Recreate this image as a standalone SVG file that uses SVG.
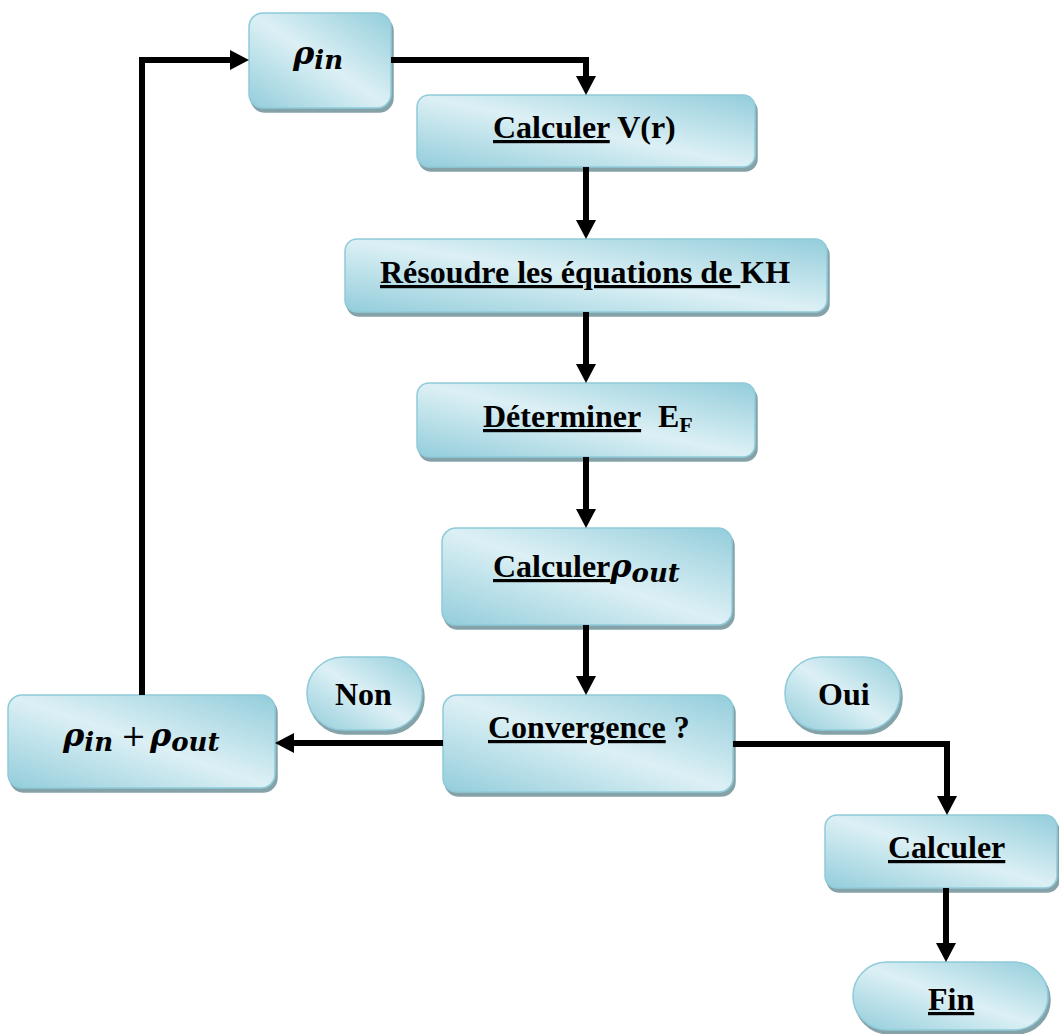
<svg xmlns="http://www.w3.org/2000/svg" width="1059" height="1034" viewBox="0 0 1059 1034">
<defs>
<linearGradient id="g" x1="1" y1="0" x2="0" y2="1">
<stop offset="0" stop-color="#93cddb"/>
<stop offset="0.5" stop-color="#dcf0f5"/>
<stop offset="1" stop-color="#93cddb"/>
</linearGradient>
<filter id="sh" x="-10%" y="-10%" width="130%" height="130%">
<feDropShadow dx="2" dy="4" stdDeviation="0.6" flood-color="#7f9ca4" flood-opacity="0.95"/>
</filter>
<marker id="ah" markerUnits="userSpaceOnUse" markerWidth="20" markerHeight="20" refX="7" refY="10" orient="auto">
<path d="M0,0 L19,10 L0,20 Z" fill="#000"/>
</marker>
<style>
.box{fill:url(#g);stroke:#8fcad9;stroke-width:1.5;filter:url(#sh)}
.t{font-family:"Liberation Serif","Times New Roman",serif;font-weight:bold;font-size:32px;fill:#000}
.u{text-decoration:underline;text-decoration-thickness:3px}
.m{font-family:"DejaVu Serif",serif;font-style:italic;font-weight:bold;font-size:32px}
.s{font-size:26px}
.p{font-family:"DejaVu Serif",serif;font-style:normal;font-weight:normal;font-size:30px}
.c{fill:none;stroke:#000;stroke-width:6;stroke-linejoin:miter;marker-end:url(#ah)}
</style>
</defs>
<rect width="1059" height="1034" fill="#fff"/>
<g id="node-rho-in">
<rect class="box" x="249" y="13" width="142" height="95" rx="14"/>
<text class="t m" x="293" y="64">ρ<tspan class="s" dy="5">in</tspan></text>
</g>
<g id="node-calculer-v">
<rect class="box" x="417" y="95" width="338" height="72" rx="12"/>
<text class="t" x="493" y="138"><tspan class="u">Calculer</tspan> V(r)</text>
</g>
<g id="node-resoudre">
<rect class="box" x="345" y="239" width="482" height="73" rx="12"/>
<text class="t" x="380" y="283"><tspan class="u">Résoudre les équations de </tspan>KH</text>
</g>
<g id="node-determiner">
<rect class="box" x="417" y="383" width="338" height="74" rx="12"/>
<text class="t" x="483" y="427"><tspan class="u">Déterminer</tspan><tspan x="658">E</tspan><tspan font-size="22" dy="5">F</tspan></text>
</g>
<g id="node-calculer-rho-out">
<rect class="box" x="442" y="528" width="290" height="97" rx="14"/>
<text class="t" x="493" y="577"><tspan class="u">Calculer</tspan><tspan class="m">ρ</tspan><tspan class="m s" dy="5">out</tspan></text>
</g>
<g id="node-convergence">
<rect class="box" x="443" y="695" width="290" height="97" rx="14"/>
<text class="t" x="488" y="738"><tspan class="u">Convergence</tspan> ?</text>
</g>
<g id="node-rho-sum">
<rect class="box" x="8" y="695" width="267" height="93" rx="14"/>
<text class="t m" x="63" y="746">ρ<tspan class="s" dy="5">in</tspan><tspan class="p" x="121" dy="-5">+</tspan><tspan x="150">ρ</tspan><tspan class="s" dy="5">out</tspan></text>
</g>
<g id="node-non">
<rect class="box" x="307" y="657" width="115" height="73" rx="36"/>
<text class="t" x="335" y="705">Non</text>
</g>
<g id="node-oui">
<rect class="box" x="785" y="657" width="115" height="73" rx="36"/>
<text class="t" x="818" y="705">Oui</text>
</g>
<g id="node-calculer">
<rect class="box" x="825" y="815" width="232" height="73" rx="12"/>
<text class="t" x="888" y="858"><tspan class="u">Calculer</tspan></text>
</g>
<g id="node-fin">
<rect class="box" x="853" y="962" width="195" height="68" rx="34"/>
<text class="t" x="928" y="1010"><tspan class="u">Fin</tspan></text>
</g>
<g id="connectors">
<path class="c" d="M391,60 H586 V83"/>
<path class="c" d="M586,167 V227"/>
<path class="c" d="M586,312 V371"/>
<path class="c" d="M586,457 V516"/>
<path class="c" d="M586,625 V683"/>
<path class="c" d="M443,743 H287"/>
<path class="c" d="M733,744 H947 V803"/>
<path class="c" d="M946,888 V950"/>
<path class="c" d="M142,695 V60 H237"/>
</g>
</svg>
